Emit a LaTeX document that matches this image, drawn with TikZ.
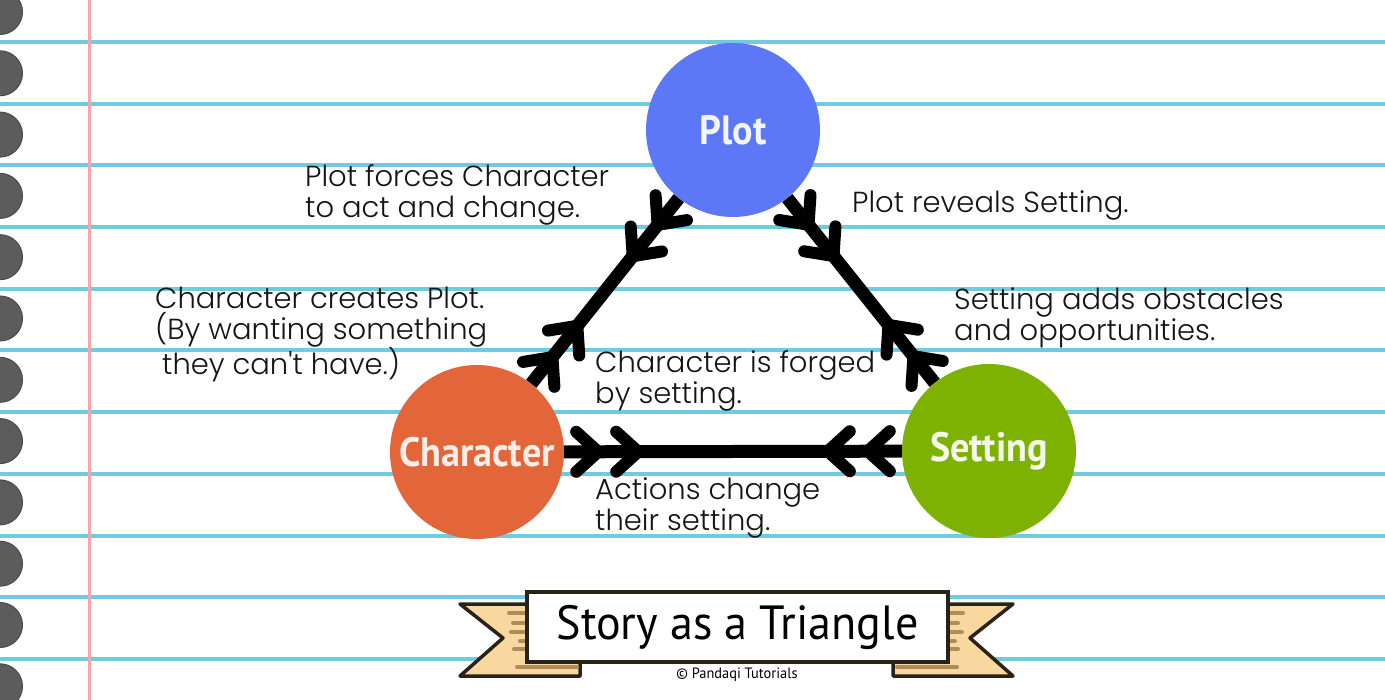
\documentclass[tikz,border=0pt]{standalone}
\usepackage{fontspec}
\usepackage{tikz}
\usepackage{xcolor}
\usetikzlibrary{arrows.meta}
\usetikzlibrary{decorations.markings}

\newfontfamily\notefont{Poppins Light}
\newfontfamily\labelfont{PT Sans}[FakeStretch=0.93]
\newfontfamily\titlefont{PT Sans}[FakeStretch=0.96]

\definecolor{ruleblue}{HTML}{6FCBDF}
\definecolor{marginred}{HTML}{F5A5AE}
\definecolor{holegray}{HTML}{5C5C5C}
\definecolor{plotblue}{HTML}{5C78F7}
\definecolor{charorange}{HTML}{E3663A}
\definecolor{setgreen}{HTML}{7DB202}
\definecolor{ribbontan}{HTML}{F9D8A0}
\definecolor{stripebrown}{HTML}{B08C5A}
\definecolor{inkbrown}{HTML}{2A2117}
\definecolor{notegray}{HTML}{151515}

\tikzset{
  chev/.tip={Straight Barb[length=22pt, width=40pt, line width'=12pt, round]},
  rule/.style={ruleblue, line width=4pt},
  hole/.style={fill=holegray, draw=holegray!80!black, line width=1pt},
  topic/.style={circle, minimum size=174pt, inner sep=0pt,
    font=\labelfont\bfseries\fontsize{41}{41}\selectfont},
  link/.style={line width=13pt, postaction={decorate, decoration={markings,
    mark=at position 40pt with {\arrow{chev}},
    mark=at position 80pt with {\arrow{chev}},
    mark=at position -80pt with {\arrowreversed{chev}},
    mark=at position -40pt with {\arrowreversed{chev}}}}},
  note/.style={anchor=base west, align=left, inner sep=0pt, text=notegray,
    font=\notefont\fontsize{29}{31}\selectfont},
  ribbon/.style={fill=ribbontan, draw=inkbrown, line width=3.5pt, line join=round},
  stripe/.style={stripebrown, line width=4pt, line cap=round}
}

\begin{document}
\begin{tikzpicture}[x=1pt, y=-1pt]
\useasboundingbox (0,0) rectangle (1385,700);
\fill[white] (0,0) rectangle (1385,700);

% notebook paper
\draw[rule] (0,42) -- (1385,42);
\draw[rule] (0,103.7) -- (1385,103.7);
\draw[rule] (0,165.4) -- (1385,165.4);
\draw[rule] (0,227.1) -- (1385,227.1);
\draw[rule] (0,288.8) -- (1385,288.8);
\draw[rule] (0,350.5) -- (1385,350.5);
\draw[rule] (0,412.2) -- (1385,412.2);
\draw[rule] (0,473.9) -- (1385,473.9);
\draw[rule] (0,535.6) -- (1385,535.6);
\draw[rule] (0,597.3) -- (1385,597.3);
\draw[rule] (0,659) -- (1385,659);
\draw[marginred, line width=3pt] (89,0) -- (89,700);

\draw[hole] (0,12) circle (22.5pt);
\draw[hole] (0,73.3) circle (22.5pt);
\draw[hole] (0,134.6) circle (22.5pt);
\draw[hole] (0,195.9) circle (22.5pt);
\draw[hole] (0,257.2) circle (22.5pt);
\draw[hole] (0,318.5) circle (22.5pt);
\draw[hole] (0,379.8) circle (22.5pt);
\draw[hole] (0,441.1) circle (22.5pt);
\draw[hole] (0,502.4) circle (22.5pt);
\draw[hole] (0,563.7) circle (22.5pt);
\draw[hole] (0,625) circle (22.5pt);
\draw[hole] (0,686.3) circle (22.5pt);

% the triangle
\node[topic, fill=plotblue, text=white!92!plotblue] (plot) at (733,130) {Plot};
\node[topic, fill=charorange, text=white!88!charorange] (char) at (477,452) {Character};
\node[topic, fill=setgreen, text=white!92!setgreen] (set) at (989,451) {Setting};

\draw[link] (char) -- (plot);
\draw[link] (plot) -- (set);
\draw[link] (char) -- (set);

\node[note] (forces) at (305,218) {Plot forces Character\\to act and change.};
\node[note] (reveals) at (852,213) {Plot reveals Setting.};
\node[note] (obstacles) at (954,341) {Setting adds obstacles\\and opportunities.};
\node[note] (creates) at (155,375) {Character creates Plot.\\(By wanting something\\\hspace{7pt}they can't have.)};
\node[note] (forged) at (595,404) {Character is forged\\by setting.};
\node[note] (actions) at (595,530) {Actions change\\their setting.};

% banner
\filldraw[ribbon] (540,604) -- (460,604) -- (503,638) -- (460,676) -- (580,676) -- (580,655) -- cycle;
\filldraw[ribbon] (935,604) -- (1013,604) -- (970,638) -- (1013,676) -- (893,676) -- (893,655) -- cycle;
\draw[stripe] (509,613) -- (527,613);
\draw[stripe] (513,623) -- (527,623);
\draw[stripe] (511,632) -- (527,632);
\draw[stripe] (520,641) -- (527,641);
\draw[stripe] (514,649) -- (527,649);
\draw[stripe] (517,667) -- (577,667);
\draw[stripe] (948,613) -- (963,613);
\draw[stripe] (948,623) -- (958,623);
\draw[stripe] (948,632) -- (962,632);
\draw[stripe] (948,641) -- (955,641);
\draw[stripe] (948,649) -- (958,649);
\draw[stripe] (897,667) -- (957,667);
\node[fill=white, draw=inkbrown, line width=3.5pt, minimum width=421pt, minimum height=70pt,
  inner sep=0pt, font=\titlefont\fontsize{48}{48}\selectfont] (title) at (737.5,627) {Story as a Triangle};
\node[inner sep=0pt, font=\titlefont\fontsize{15}{15}\selectfont] (credit) at (737,675) {© Pandaqi Tutorials};

\end{tikzpicture}
\end{document}
